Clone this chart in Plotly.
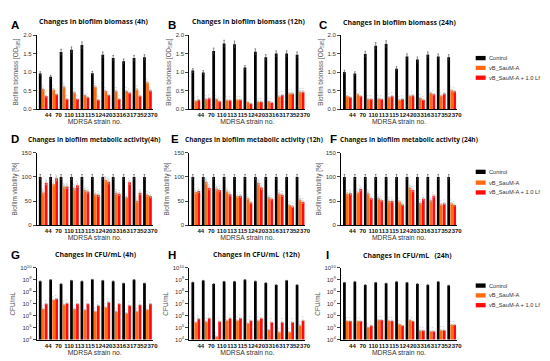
import plotly.graph_objects as go
from plotly.subplots import make_subplots

strains = ["44", "70", "110", "113", "115", "124", "203", "316", "317", "352", "370"]
series_names = ["Control", "vB_SauM-A", "vB_SauM-A + 1.0 Lf"]
colors = ["#000000", "#FF6A13", "#FF0A0A"]

# Row 1: biofilm biomass [OD595]
biomass_4h_control = [0.96, 0.87, 1.54, 1.60, 1.73, 0.97, 1.47, 1.38, 1.29, 1.38, 1.40]
biomass_4h_phage = [0.54, 0.53, 0.60, 0.45, 0.38, 0.60, 0.49, 0.49, 0.49, 0.53, 0.72]
biomass_4h_phage_lf = [0.35, 0.40, 0.27, 0.27, 0.32, 0.25, 0.38, 0.27, 0.44, 0.36, 0.50]

biomass_12h_control = [1.04, 0.99, 1.57, 1.77, 1.75, 1.12, 1.55, 1.40, 1.50, 1.50, 1.47]
biomass_12h_phage = [0.22, 0.27, 0.27, 0.24, 0.25, 0.19, 0.20, 0.21, 0.34, 0.42, 0.47]
biomass_12h_phage_lf = [0.25, 0.29, 0.21, 0.24, 0.25, 0.15, 0.20, 0.18, 0.38, 0.42, 0.47]

biomass_24h_control = [1.00, 0.96, 1.49, 1.71, 1.76, 1.09, 1.42, 1.34, 1.47, 1.42, 1.40]
biomass_24h_phage = [0.35, 0.40, 0.27, 0.28, 0.32, 0.25, 0.36, 0.30, 0.44, 0.36, 0.51]
biomass_24h_phage_lf = [0.32, 0.35, 0.27, 0.27, 0.35, 0.27, 0.37, 0.25, 0.40, 0.42, 0.48]

# Row 2: biofilm metabolic activity [%]
activity_4h_control = [100, 100, 100, 100, 100, 100, 100, 100, 100, 100, 100]
activity_4h_phage = [68, 85, 80, 77, 73, 64, 94, 67, 58, 50, 63]
activity_4h_phage_lf = [88, 97, 80, 83, 70, 63, 90, 65, 89, 67, 60]

activity_12h_control = [100, 100, 100, 100, 100, 100, 100, 100, 100, 100, 100]
activity_12h_phage = [69, 90, 76, 70, 60, 56, 88, 58, 65, 42, 53]
activity_12h_phage_lf = [71, 77, 73, 64, 61, 47, 78, 55, 63, 39, 48]

activity_24h_control = [100, 100, 100, 100, 100, 100, 100, 100, 100, 100, 100]
activity_24h_phage = [65, 68, 66, 56, 50, 49, 78, 46, 52, 43, 45]
activity_24h_phage_lf = [66, 75, 56, 52, 50, 43, 73, 55, 61, 45, 42]

# Row 3: CFU/mL
cfu_4h_control = [7.8e8, 1.0e9, 4.6e8, 8.7e8, 7.8e8, 1.07e9, 8.7e8, 7.8e8, 5.2e8, 1.0e9, 5.2e8]
cfu_4h_phage = [3.7e6, 2.1e7, 8.5e6, 3.7e6, 3.1e6, 2.2e6, 5.1e6, 2.2e6, 1.6e6, 2.2e6, 3.2e6]
cfu_4h_phage_lf = [9.8e6, 2.6e7, 1.1e7, 9.8e6, 9.8e6, 7.1e6, 1.35e7, 9.8e6, 7.1e6, 8.1e6, 9.8e6]

cfu_12h_control = [6.3e8, 8.7e8, 4.6e8, 7.2e8, 7.2e8, 1.0e9, 7.8e8, 5.6e8, 3.8e8, 8.7e8, 3.8e8]
cfu_12h_phage = [2.8e5, 3.2e5, 1.8e4, 3.9e5, 3.9e5, 2.3e5, 3.9e5, 6.5e4, 4.1e4, 4.1e4, 1.5e5]
cfu_12h_phage_lf = [5.4e5, 6.2e5, 3.2e5, 6.2e5, 6.2e5, 3.9e5, 6.2e5, 2.8e5, 2.8e5, 2.8e5, 3.9e5]

cfu_24h_control = [5.9e8, 7.1e8, 3.8e8, 5.9e8, 5.2e8, 7.1e8, 5.9e8, 4.6e8, 3.8e8, 7.1e8, 3.4e8]
cfu_24h_phage = [3.5e5, 3.5e5, 1.05e5, 4.4e5, 3.8e5, 1.95e5, 4.4e5, 5.6e4, 5.0e4, 6.0e4, 1.7e5]
cfu_24h_phage_lf = [3.5e5, 3.5e5, 1.5e5, 4.4e5, 3.8e5, 1.5e5, 3.5e5, 5.6e4, 5.0e4, 6.0e4, 1.7e5]

panels = [
    # (row, col, letter, title, values)
    (1, 1, "A", "Changes in biofilm biomass (4h)", [biomass_4h_control, biomass_4h_phage, biomass_4h_phage_lf]),
    (1, 2, "B", "Changes in biofilm biomass (12h)", [biomass_12h_control, biomass_12h_phage, biomass_12h_phage_lf]),
    (1, 3, "C", "Changes in biofilm biomass (24h)", [biomass_24h_control, biomass_24h_phage, biomass_24h_phage_lf]),
    (2, 1, "D", "Changes in biofilm metabolic activity(4h)", [activity_4h_control, activity_4h_phage, activity_4h_phage_lf]),
    (2, 2, "E", "Changes in biofilm metabolic activity (12h)", [activity_12h_control, activity_12h_phage, activity_12h_phage_lf]),
    (2, 3, "F", "Changes in biofilm metabolic activity (24h)", [activity_24h_control, activity_24h_phage, activity_24h_phage_lf]),
    (3, 1, "G", "Changes in CFU/mL (4h)", [cfu_4h_control, cfu_4h_phage, cfu_4h_phage_lf]),
    (3, 2, "H", "Changes in CFU/mL  (12h)", [cfu_12h_control, cfu_12h_phage, cfu_12h_phage_lf]),
    (3, 3, "I", "Changes in CFU/mL   (24h)", [cfu_24h_control, cfu_24h_phage, cfu_24h_phage_lf]),
]

W, H = 550, 361
def fx(px):
    return px / W
def fy(py):
    return 1 - py / H

# pixel layout
col_x = [(29, 146), (183, 300), (336, 453)]
row_y = [(23.5, 99), (143.5, 217.5), (261, 334)]
title_pos = {"A": (86, 10), "B": (243, 10), "C": (395, 11),
             "D": (87, 130), "E": (248, 130), "F": (405, 130),
             "G": (89, 247), "H": (251, 247), "I": (403, 248)}
letter_pos = {"A": (2, 13), "B": (160, 13), "C": (313, 13),
              "D": (2, 130), "E": (163, 130), "F": (324, 129.5),
              "G": (2, 248), "H": (160, 248), "I": (320, 248)}
ytitles = ["Biofilm biomass [OD<sub>595</sub>]", "Biofilm viability [%]", "CFU/mL"]

fig = make_subplots(rows=3, cols=3)

txtfont = dict(family="Liberation Sans, Arial, sans-serif", color="#222222")

for (r, c, letter, title, vals) in panels:
    for k in range(3):
        fig.add_trace(go.Bar(
            x=strains, y=vals[k], name=series_names[k],
            marker=dict(color=colors[k], line=dict(width=0)),
            error_y=dict(type="percent", value=5, thickness=0.6, width=0.8,
                         color="#444444" if k == 0 else "#bbbbbb"),
            text=None if k == 0 else ["* *"] * len(strains),
            textposition="outside", textangle=-90, constraintext="none",
            textfont=dict(size=4, color="#aaaaaa"), cliponaxis=False,
            showlegend=False,
        ), row=r, col=c)

fig.update_layout(
    width=W, height=H, margin=dict(l=0, r=0, t=0, b=0),
    paper_bgcolor="white", plot_bgcolor="white",
    barmode="group", bargap=0.14, bargroupgap=0.08,
    font=txtfont,
)

annotations = []
for (r, c, letter, title, vals) in panels:
    idx = (r - 1) * 3 + c
    xs = "xaxis" if idx == 1 else f"xaxis{idx}"
    ys = "yaxis" if idx == 1 else f"yaxis{idx}"
    x0, x1 = col_x[c - 1]
    ytop, ybot = row_y[r - 1]
    xax = dict(domain=[fx(x0), fx(x1)], range=[-0.62, 10.5], showline=True, linecolor="black",
               linewidth=1, ticks="", showgrid=False, zeroline=False,
               tickfont=dict(size=6, family="Liberation Sans, Arial", color="#111", weight="bold"),
               ticklabelshift=5, ticklabelstandoff=0, tickangle=0,
               title=dict(text="MDRSA strain no.", font=dict(size=6.8, color="#333"), standoff=1))
    yax = dict(domain=[fy(ybot), fy(ytop)], showline=True, linecolor="black", linewidth=1,
               ticks="outside", ticklen=3, tickwidth=1, showgrid=False, zeroline=False,
               tickfont=dict(size=6, color="#333"),
               title=dict(text=ytitles[r - 1], font=dict(size=6.4, color="#555"), standoff=3))
    if r == 1:
        yax.update(range=[0, 2.0], tickvals=[0, 0.5, 1.0, 1.5, 2.0],
                   ticktext=["0.0", "0.5", "1.0", "1.5", "2.0"])
    elif r == 2:
        yax.update(range=[0, 150], tickvals=[0, 50, 100, 150])
    else:
        yax.update(type="log", range=[4, 10],
                   tickvals=[1e4, 1e5, 1e6, 1e7, 1e8, 1e9, 1e10],
                   ticktext=[f"10<sup>{p}</sup>" for p in range(4, 11)])
    fig.layout[xs].update(xax)
    fig.layout[ys].update(yax)

    tx, ty = title_pos[letter]
    tsize = 6.5 if r == 2 else 6.9
    annotations.append(dict(text=title, x=fx(tx), y=fy(ty), xref="paper", yref="paper",
                            xanchor="center", yanchor="middle", showarrow=False,
                            font=dict(size=tsize, family="Open Sans, sans-serif",
                                      color="#111", weight="bold")))
    lx, ly = letter_pos[letter]
    annotations.append(dict(text=letter, x=fx(lx), y=fy(ly), xref="paper", yref="paper",
                            xanchor="left", yanchor="middle", showarrow=False, borderpad=0,
                            font=dict(size=11.5, family="Liberation Sans, Arial", color="#000", weight="bold")))

# legends (one per row)
shapes = []
legend_rows = [(47, 57, 67), (163, 174, 184), (279, 289, 299)]
for rows in legend_rows:
    for k, yy in enumerate(rows):
        shapes.append(dict(type="rect", xref="paper", yref="paper",
                           x0=fx(472), x1=fx(482), y0=fy(yy + 2.2), y1=fy(yy - 2.2),
                           fillcolor=colors[k], line=dict(width=0)))
        annotations.append(dict(text=series_names[k], x=fx(484), y=fy(yy), xref="paper", yref="paper",
                                xanchor="left", yanchor="middle", showarrow=False, borderpad=0,
                                font=dict(size=5.7, color="#333")))

fig.update_layout(annotations=annotations, shapes=shapes)
fig.write_html("out.html")
